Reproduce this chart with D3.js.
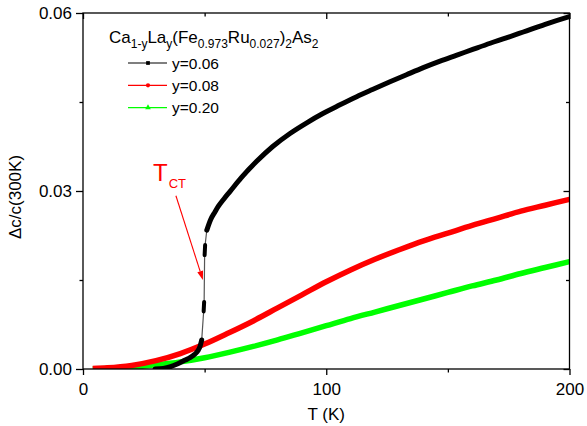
<!DOCTYPE html>
<html>
<head>
<meta charset="utf-8">
<script src="https://cdn.jsdelivr.net/npm/d3@7"></script>
<style>
html,body{margin:0;padding:0;background:#fff;}
svg{display:block;}
text{font-family:"Liberation Sans",Arial,sans-serif;}
</style>
</head>
<body>
<div id="chart"></div>
<script>
// ---- data ----
const xTicks = [0, 100, 200];
const xMinorTicks = [50, 150];
const yTicks = [0.00, 0.03, 0.06];
const yMinorTicks = [0.015, 0.045];
const seriesNames = ["y=0.06", "y=0.08", "y=0.20"];
const seriesColors = ["#000000", "#ff0000", "#00ff00"];

// y=0.06 : below the transition
const blackLowT = [29.6, 33, 36, 39, 42, 44, 46, 47.3, 48.1, 48.8];
const blackLowV = [0.0000, 0.0001, 0.0004, 0.0009, 0.0015, 0.0019, 0.0025, 0.0031, 0.0038, 0.0049];
// y=0.06 : isolated point clusters in the jump
const blackDash1T = [49.6, 49.8];
const blackDash1V = [0.0097, 0.0113];
const blackDash2T = [50.0, 50.2];
const blackDash2V = [0.0192, 0.0209];
// y=0.06 : above the transition
const blackHighT = [50.9, 52.5, 54.3, 55.6, 58, 60.4, 65, 71.4, 78, 85.1, 92, 98.8, 105, 112.5, 119, 126.2, 133, 139.9, 146.8, 153.7, 160.5, 167.4, 174, 181, 190, 200];
const blackHighV = [0.0234, 0.0252, 0.0265, 0.0274, 0.0287, 0.0299, 0.0322, 0.0350, 0.0375, 0.0397, 0.0415, 0.0431, 0.0444, 0.0459, 0.0471, 0.0484, 0.0496, 0.0508, 0.0519, 0.0529, 0.0539, 0.0549, 0.0558, 0.0568, 0.0581, 0.0594];

// y=0.08
const redT = [4, 10, 20, 30, 40, 50, 60, 70, 80, 90, 100, 110, 120, 130, 140, 150, 160, 170, 180, 190, 200];
const redV = [0.0001, 0.0002, 0.0006, 0.0014, 0.0026, 0.0042, 0.0061, 0.0081, 0.0103, 0.0125, 0.0147, 0.0167, 0.0185, 0.0201, 0.0216, 0.0229, 0.0242, 0.0254, 0.0266, 0.0276, 0.0286];

// y=0.20
const greenT = [4, 10, 20, 30, 40, 50, 60, 70, 80, 90, 100, 110, 120, 130, 140, 150, 160, 170, 180, 190, 200];
const greenV = [0.0000, 0.0001, 0.0003, 0.0007, 0.0012, 0.0019, 0.0028, 0.0038, 0.0049, 0.0061, 0.0073, 0.0085, 0.0096, 0.0107, 0.0118, 0.0129, 0.0140, 0.0150, 0.0161, 0.0171, 0.0181];

// annotation (data coordinates)
const annotLabelAt = [28.8, 0.0317];
const arrowFrom = [38.2, 0.0292];
const arrowTo = [49.3, 0.0150];

// ---- layout ----
const W = 587, H = 426;
const m = {left: 83, right: 17.5, top: 13, bottom: 57};
const x = d3.scaleLinear().domain([0, 200]).range([m.left, W - m.right]);
const y = d3.scaleLinear().domain([0, 0.06]).range([H - m.bottom, m.top]);

const svg = d3.select("#chart").append("svg").attr("width", W).attr("height", H);

const zip = (t, v) => t.map((d, i) => [d, v[i]]);
const lineMono = d3.line().x(d => x(d[0])).y(d => y(d[1])).curve(d3.curveMonotoneX);
const lineLin = d3.line().x(d => x(d[0])).y(d => y(d[1]));

const plot = svg.append("g");
svg.append("clipPath").attr("id", "clip").append("rect")
  .attr("x", m.left).attr("y", m.top).attr("width", W - m.left - m.right).attr("height", H - m.top - m.bottom);
plot.attr("clip-path", "url(#clip)");

// green
plot.append("path").datum(zip(greenT, greenV)).attr("d", lineMono)
  .attr("fill", "none").attr("stroke", seriesColors[2]).attr("stroke-width", 5.5).attr("stroke-linejoin", "round");
// red
plot.append("path").datum(zip(redT, redV)).attr("d", lineMono)
  .attr("fill", "none").attr("stroke", seriesColors[1]).attr("stroke-width", 5.5).attr("stroke-linejoin", "round");

// black thin connecting line
const blackAll = zip(blackLowT, blackLowV).concat(zip(blackDash1T, blackDash1V), zip(blackDash2T, blackDash2V), zip(blackHighT, blackHighV));
plot.append("path").datum(blackAll).attr("d", lineLin)
  .attr("fill", "none").attr("stroke", "#555").attr("stroke-width", 1.2);
// black dense segments
[zip(blackLowT, blackLowV), zip(blackHighT, blackHighV)].forEach(seg => {
  plot.append("path").datum(seg).attr("d", lineMono)
    .attr("fill", "none").attr("stroke", seriesColors[0]).attr("stroke-width", 5).attr("stroke-linecap", "round").attr("stroke-linejoin", "round");
});
[zip(blackDash1T, blackDash1V), zip(blackDash2T, blackDash2V)].forEach(seg => {
  plot.append("path").datum(seg).attr("d", lineLin)
    .attr("fill", "none").attr("stroke", seriesColors[0]).attr("stroke-width", 4).attr("stroke-linecap", "round");
});

// ---- axes ----
const axisStroke = 1.3;
const gB = svg.append("g").attr("transform", `translate(0,${H - m.bottom})`)
  .call(d3.axisBottom(x).tickValues(xTicks).tickSize(6).tickPadding(8).tickFormat(d3.format("d")));
const gBm = svg.append("g").attr("transform", `translate(0,${H - m.bottom})`)
  .call(d3.axisBottom(x).tickValues(xMinorTicks).tickSize(3.5).tickFormat(""));
const gT = svg.append("g").attr("transform", `translate(0,${m.top})`)
  .call(d3.axisBottom(x).tickValues(xTicks).tickSize(6).tickFormat(""));
const gTm = svg.append("g").attr("transform", `translate(0,${m.top})`)
  .call(d3.axisBottom(x).tickValues(xMinorTicks).tickSize(3.5).tickFormat(""));
const gL = svg.append("g").attr("transform", `translate(${m.left},0)`)
  .call(d3.axisLeft(y).tickValues(yTicks).tickSize(7).tickPadding(4).tickFormat(d3.format(".2f")));
const gLm = svg.append("g").attr("transform", `translate(${m.left},0)`)
  .call(d3.axisLeft(y).tickValues(yMinorTicks).tickSize(3.5).tickFormat(""));
const gR = svg.append("g").attr("transform", `translate(${W - m.right},0)`)
  .call(d3.axisLeft(y).tickValues(yTicks).tickSize(6).tickFormat(""));
const gRm = svg.append("g").attr("transform", `translate(${W - m.right},0)`)
  .call(d3.axisLeft(y).tickValues(yMinorTicks).tickSize(3.5).tickFormat(""));
[gB, gBm, gT, gTm, gL, gLm, gR, gRm].forEach(g => {
  g.select(".domain").remove();
  g.selectAll(".tick line").attr("stroke", "#000").attr("stroke-width", axisStroke);
  g.selectAll(".tick text").attr("font-size", 17).attr("fill", "#000")
    .attr("font-family", '"Liberation Sans", Arial, sans-serif');
});
// frame
svg.append("rect").attr("x", m.left).attr("y", m.top)
  .attr("width", W - m.left - m.right).attr("height", H - m.top - m.bottom)
  .attr("fill", "none").attr("stroke", "#000").attr("stroke-width", axisStroke);

// axis titles
svg.append("text").attr("x", x(100)).attr("y", 420).attr("text-anchor", "middle")
  .attr("font-size", 17).text("T (K)");
svg.append("text").attr("transform", `translate(21,${(y(0) + y(0.06)) / 2 + 6}) rotate(-90)`)
  .attr("text-anchor", "middle").attr("font-size", 17).text("\u0394c/c(300K)");

// ---- legend ----
const leg = svg.append("g");
const title = leg.append("text").attr("x", 109).attr("y", 43).attr("font-size", 17);
const parts = [["Ca", 0], ["1-y", 1], ["La", 0], ["y", 1], ["(Fe", 0], ["0.973", 1], ["Ru", 0], ["0.027", 1], [")", 0], ["2", 1], ["As", 0], ["2", 1]];
let prevSub = false;
parts.forEach(([s, sub]) => {
  const ts = title.append("tspan").text(s);
  if (sub) { ts.attr("font-size", 12).attr("dy", prevSub ? 0 : 5); }
  else { ts.attr("dy", prevSub ? -5 : 0); }
  prevSub = !!sub;
});
const legY = [63, 85.3, 107.6];
const sym = [d3.symbolSquare, d3.symbolCircle, d3.symbolTriangle];
seriesNames.forEach((n, i) => {
  leg.append("line").attr("x1", 128).attr("x2", 167).attr("y1", legY[i]).attr("y2", legY[i])
    .attr("stroke", seriesColors[i]).attr("stroke-width", 1.2);
  leg.append("path").attr("d", d3.symbol().type(sym[i]).size(14)())
    .attr("transform", `translate(148,${legY[i]})`).attr("fill", seriesColors[i]);
  leg.append("text").attr("x", 172).attr("y", legY[i] + 5.5).attr("font-size", 15.5).text(n);
});

// ---- annotation ----
const ann = svg.append("text").attr("x", x(annotLabelAt[0])).attr("y", y(annotLabelAt[1]))
  .attr("fill", "#ff0000").attr("font-size", 24);
ann.append("tspan").text("T");
ann.append("tspan").text("CT").attr("font-size", 13).attr("dy", 7).attr("dx", 1);

const ax1 = x(arrowFrom[0]), ay1 = y(arrowFrom[1]), ax2 = x(arrowTo[0]), ay2 = y(arrowTo[1]);
const ang = Math.atan2(ay2 - ay1, ax2 - ax1);
const hl = 9, hw = 3;
const bx = ax2 - hl * Math.cos(ang), by = ay2 - hl * Math.sin(ang);
svg.append("line").attr("x1", ax1).attr("y1", ay1).attr("x2", bx).attr("y2", by)
  .attr("stroke", "#ff0000").attr("stroke-width", 1.1);
svg.append("path").attr("d", `M${ax2},${ay2}L${bx - hw * Math.sin(ang)},${by + hw * Math.cos(ang)}L${bx + hw * Math.sin(ang)},${by - hw * Math.cos(ang)}Z`)
  .attr("fill", "#ff0000");
</script>
</body>
</html>
